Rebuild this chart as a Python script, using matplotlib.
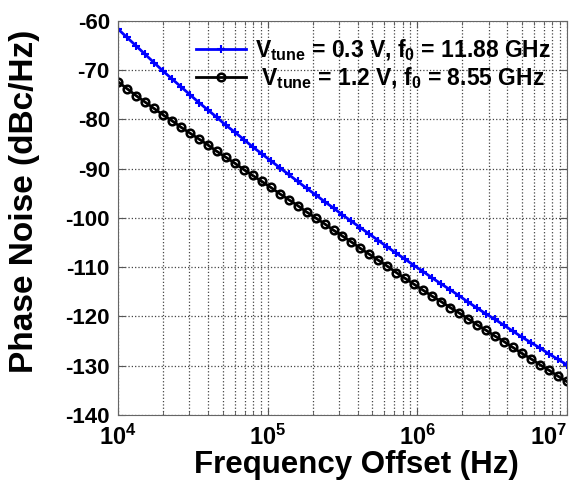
import numpy as np
import matplotlib
matplotlib.use("Agg")
import matplotlib.pyplot as plt
from matplotlib.ticker import LogLocator, NullFormatter

plt.rcParams['font.family'] = ['Liberation Sans', 'DejaVu Sans']
plt.rcParams['font.weight'] = 'bold'
plt.rcParams['axes.unicode_minus'] = False

# offset frequency sweep, 51 points from 10 kHz to 10 MHz
freq = np.logspace(4, 7, 51)

# phase noise (dBc/Hz)
pn_03v = [-61.7, -63.4, -65.1, -66.8, -68.5, -70.2, -71.8, -73.4, -75.0, -76.6,
          -78.1, -79.6, -81.2, -82.6, -84.1, -85.6, -87.0, -88.4, -89.8, -91.2,
          -92.6, -94.0, -95.3, -96.7, -98.0, -99.4, -100.7, -102.0, -103.3, -104.6,
          -105.9, -107.2, -108.4, -109.7, -110.9, -112.2, -113.4, -114.6, -115.8, -117.1,
          -118.3, -119.5, -120.6, -121.8, -123.0, -124.2, -125.3, -126.4, -127.6, -128.7,
          -129.8]
pn_12v = [-72.4, -73.8, -75.2, -76.5, -77.8, -79.1, -80.3, -81.6, -82.8, -84.0,
          -85.2, -86.5, -87.7, -88.9, -90.2, -91.4, -92.6, -93.8, -95.1, -96.3,
          -97.5, -98.8, -100.0, -101.2, -102.5, -103.7, -104.9, -106.2, -107.4, -108.6,
          -109.8, -111.1, -112.3, -113.5, -114.7, -115.9, -117.0, -118.2, -119.3, -120.5,
          -121.7, -122.8, -124.0, -125.1, -126.3, -127.5, -128.6, -129.8, -130.9, -132.1,
          -133.2]

labels = [r'V$_{\mathdefault{tune}}$ = 0.3 V, f$_{\mathdefault{0}}$ = 11.88 GHz',
          r' V$_{\mathdefault{tune}}$ = 1.2 V, f$_{\mathdefault{0}}$ = 8.55 GHz']
xticks = [1e4, 1e5, 1e6, 1e7]
xticklabels = [r'$\mathdefault{10^{4}}$', r'$\mathdefault{10^{5}}$',
               r'$\mathdefault{10^{6}}$', r'$\mathdefault{10^{7}}$']
yticks = [-140, -130, -120, -110, -100, -90, -80, -70, -60]

fig = plt.figure(figsize=(5.79, 4.82), dpi=100)
ax = fig.add_axes([0.204, 0.139, 0.775, 0.818])

ax.semilogx(freq, pn_03v, color='#0000ff', lw=2, marker='+', ms=6, mew=1.5, label=labels[0])
ax.semilogx(freq, pn_12v, color='black', lw=2, marker='o', ms=5.5, mew=1.8,
            mfc='none', label=labels[1])

ax.set_xlim(1e4, 1e7)
ax.set_ylim(-140, -60)
ax.set_yticks(yticks)
ax.set_xticks(xticks, xticklabels)
ax.xaxis.set_minor_locator(LogLocator(base=10, subs=np.arange(2, 10)))
ax.xaxis.set_minor_formatter(NullFormatter())

ax.grid(True, which='major', color='#444444', linestyle=':', lw=0.9)
ax.grid(True, which='minor', axis='x', color='#444444', linestyle=':', lw=0.9)
ax.tick_params(which='both', direction='in', top=True, right=True, color='#555555')
ax.tick_params(which='major', length=5)
ax.tick_params(axis='y', labelsize=16, pad=6)
ax.tick_params(axis='x', labelsize=17, pad=7)
ax.tick_params(which='minor', length=3)
for lab in ax.get_xticklabels() + ax.get_yticklabels():
    lab.set_fontweight('bold')
ax.get_xticklabels()[-1].set_horizontalalignment('right')
for s in ax.spines.values():
    s.set_color('#666666')

ax.set_xlabel('Frequency Offset (Hz)', fontsize=22.5, fontweight='bold')
ax.set_ylabel('Phase Noise (dBc/Hz)', fontsize=24, fontweight='bold')
ax.xaxis.set_label_coords(0.532, -0.089)
ax.yaxis.set_label_coords(-0.175, 0.543)

leg = ax.legend(loc='upper right', frameon=False, handlelength=2.2,
                borderaxespad=0.3, labelspacing=0.1, handletextpad=0.36,
                prop={'weight': 'bold', 'size': 16.5})

fig.savefig('out.png', dpi=100)
